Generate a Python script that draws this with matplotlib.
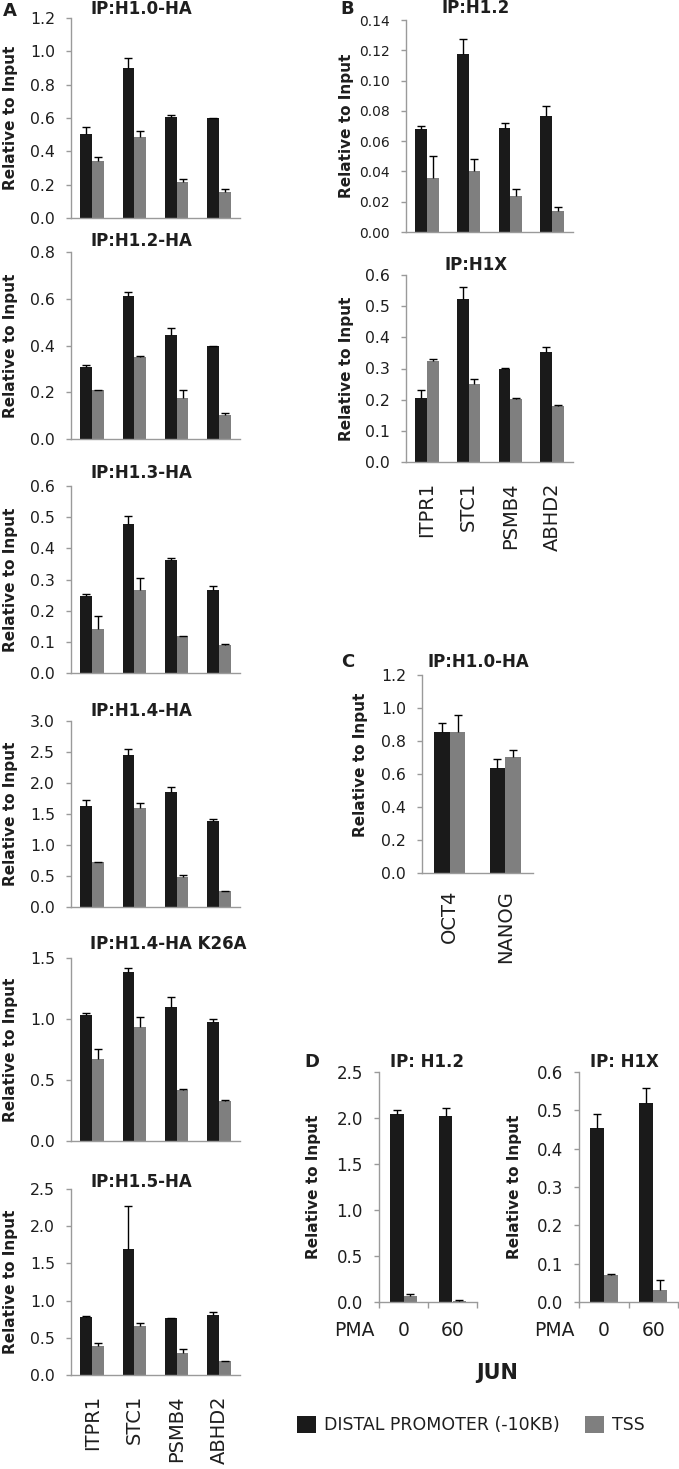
import numpy as np
import matplotlib
matplotlib.use("Agg")
import matplotlib.pyplot as plt
from matplotlib.transforms import blended_transform_factory

# ---------------- data ----------------
genes = ["ITPR1", "STC1", "PSMB4", "ABHD2"]
pluri_genes = ["OCT4", "NANOG"]
pma_times = ["0", "60"]
series_names = ["DISTAL PROMOTER (-10KB)", "TSS"]

# Panel A
a_h10_distal = [0.506, 0.900, 0.608, 0.600]
a_h10_distal_err = [0.038, 0.058, 0.012, 0.003]
a_h10_tss = [0.340, 0.488, 0.218, 0.156]
a_h10_tss_err = [0.024, 0.036, 0.018, 0.018]

a_h12_distal = [0.309, 0.611, 0.446, 0.397]
a_h12_distal_err = [0.007, 0.018, 0.027, 0.002]
a_h12_tss = [0.208, 0.350, 0.174, 0.101]
a_h12_tss_err = [0.003, 0.006, 0.034, 0.010]

a_h13_distal = [0.247, 0.479, 0.361, 0.265]
a_h13_distal_err = [0.008, 0.025, 0.007, 0.015]
a_h13_tss = [0.140, 0.267, 0.118, 0.091]
a_h13_tss_err = [0.042, 0.037, 0.002, 0.001]

a_h14_distal = [1.634, 2.448, 1.859, 1.382]
a_h14_distal_err = [0.090, 0.096, 0.080, 0.037]
a_h14_tss = [0.723, 1.590, 0.482, 0.252]
a_h14_tss_err = [0.005, 0.095, 0.027, 0.010]

a_k26a_distal = [1.036, 1.387, 1.100, 0.979]
a_k26a_distal_err = [0.011, 0.027, 0.080, 0.022]
a_k26a_tss = [0.672, 0.935, 0.414, 0.329]
a_k26a_tss_err = [0.080, 0.082, 0.011, 0.008]

a_h15_distal = [0.784, 1.689, 0.766, 0.806]
a_h15_distal_err = [0.005, 0.580, 0.005, 0.040]
a_h15_tss = [0.394, 0.663, 0.300, 0.188]
a_h15_tss_err = [0.036, 0.040, 0.045, 0.005]

# Panel B (endogenous)
b_h12_distal = [0.0679, 0.1173, 0.0686, 0.0765]
b_h12_distal_err = [0.0022, 0.0101, 0.0037, 0.0066]
b_h12_tss = [0.0355, 0.0406, 0.0238, 0.0139]
b_h12_tss_err = [0.0150, 0.0075, 0.0044, 0.0024]

b_h1x_distal = [0.206, 0.523, 0.297, 0.354]
b_h1x_distal_err = [0.025, 0.040, 0.004, 0.015]
b_h1x_tss = [0.324, 0.249, 0.203, 0.180]
b_h1x_tss_err = [0.008, 0.018, 0.001, 0.004]

# Panel C
c_h10_distal = [0.853, 0.636]
c_h10_distal_err = [0.058, 0.052]
c_h10_tss = [0.853, 0.706]
c_h10_tss_err = [0.105, 0.038]

# Panel D (JUN, PMA time)
d_h12_distal = [2.047, 2.022]
d_h12_distal_err = [0.043, 0.087]
d_h12_tss = [0.065, 0.015]
d_h12_tss_err = [0.025, 0.007]

d_h1x_distal = [0.454, 0.520]
d_h1x_distal_err = [0.037, 0.037]
d_h1x_tss = [0.070, 0.031]
d_h1x_tss_err = [0.004, 0.027]

# ---------------- style ----------------
W, H = 679, 1469
BLACK = "#1a1a1a"
GRAY = "#7f7f7f"
AXC = "#9a9a9a"
TXT = "#1e1e1e"
BAR_W = 0.28

fig = plt.figure(figsize=(W / 100, H / 100), dpi=100)


def fx(px):
    return px / W


def fy(py):
    return 1 - py / H


def make_axes(l, t, r, b):
    return fig.add_axes([fx(l), fy(b), (r - l) / W, (b - t) / H])


def draw_panel(ax, cats, dist, dist_err, tss, tss_err, ymax, step, fmt,
               ytick_size=11.3):
    x = np.arange(len(cats))
    b1 = ax.bar(x - BAR_W / 2, dist, BAR_W, color=BLACK, zorder=2)
    b2 = ax.bar(x + BAR_W / 2, tss, BAR_W, color=GRAY, zorder=2)
    for xs, v, e in ((x - BAR_W / 2, dist, dist_err), (x + BAR_W / 2, tss, tss_err)):
        _, caps, _ = ax.errorbar(xs, v, yerr=[np.zeros(len(v)), e], fmt="none",
                                 ecolor="black", elinewidth=1.0, capsize=3.2,
                                 capthick=1.0, zorder=3)
        caps[0].set_visible(False)
    ax.set_xlim(-0.5, len(cats) - 0.5)
    ax.set_ylim(0, ymax)
    ticks = np.arange(0, ymax + step / 2, step)
    ax.set_yticks(ticks)
    ax.set_yticklabels([fmt.format(t) for t in ticks])
    for s in ("top", "right"):
        ax.spines[s].set_visible(False)
    for s in ("left", "bottom"):
        ax.spines[s].set_color(AXC)
        ax.spines[s].set_linewidth(1.0)
    ax.tick_params(axis="y", direction="out", length=3.6, width=1.0, color=AXC,
                   pad=8, labelsize=ytick_size, labelcolor=TXT)
    ax.set_facecolor("none")
    return b1, b2


def cat_labels(ax, cats, pad=14.5, size=14):
    ax.set_xticks(np.arange(len(cats)))
    ax.set_xticklabels(cats, rotation=90, fontsize=size, color=TXT)
    ax.tick_params(axis="x", length=0, pad=pad)


def no_xlabels(ax):
    ax.set_xticks(np.arange(len(ax.get_xticks())))
    ax.set_xticks([])


def ylabel(ax, xc_px, l, r, yfrac=0.5, size=11):
    ax.set_ylabel("Relative to Input", fontsize=size, fontweight="bold",
                  color=TXT, va="center")
    ax.yaxis.set_label_coords((xc_px - l) / (r - l), yfrac)


def title(x, y, s, ha="center", size=12):
    fig.text(fx(x), fy(y), s, ha=ha, va="center", fontsize=size,
             fontweight="bold", color=TXT)


# ---------------- Panel A ----------------
AL, AR = 71, 240
a_specs = [
    ((18, 218), a_h10_distal, a_h10_distal_err, a_h10_tss, a_h10_tss_err, 1.2, 0.2, "{:.1f}", "IP:H1.0-HA", 9),
    ((252, 439), a_h12_distal, a_h12_distal_err, a_h12_tss, a_h12_tss_err, 0.8, 0.2, "{:.1f}", "IP:H1.2-HA", 241.5),
    ((486, 673), a_h13_distal, a_h13_distal_err, a_h13_tss, a_h13_tss_err, 0.6, 0.1, "{:.1f}", "IP:H1.3-HA", 473),
    ((721, 907), a_h14_distal, a_h14_distal_err, a_h14_tss, a_h14_tss_err, 3.0, 0.5, "{:.1f}", "IP:H1.4-HA", 711),
    ((958, 1141), a_k26a_distal, a_k26a_distal_err, a_k26a_tss, a_k26a_tss_err, 1.5, 0.5, "{:.1f}", "IP:H1.4-HA K26A", 944),
    ((1189, 1375), a_h15_distal, a_h15_distal_err, a_h15_tss, a_h15_tss_err, 2.5, 0.5, "{:.1f}", "IP:H1.5-HA", 1182),
]
legend_handles = None
for i, (tb, d, de, t, te, ymax, step, fmt, ttl, ty) in enumerate(a_specs):
    ax = make_axes(AL, tb[0], AR, tb[1])
    hs = draw_panel(ax, genes, d, de, t, te, ymax, step, fmt)
    if legend_handles is None:
        legend_handles = hs
    if i == len(a_specs) - 1:
        cat_labels(ax, genes)
    else:
        ax.set_xticks([])
    ylabel(ax, 10.5, AL, AR)
    title(90, ty, ttl, ha="left")

fig.text(fx(10), fy(11), "A", ha="center", va="center", fontsize=13,
         fontweight="bold", color=TXT)

# ---------------- Panel B ----------------
BL, BR = 406, 573
ax = make_axes(BL, 20, BR, 232)
draw_panel(ax, genes, b_h12_distal, b_h12_distal_err, b_h12_tss, b_h12_tss_err,
           0.14, 0.02, "{:.2f}", ytick_size=10)
ax.set_xticks([])
ylabel(ax, 346, BL, BR)
title(476, 8, "IP:H1.2")

ax = make_axes(BL, 275, BR, 462)
draw_panel(ax, genes, b_h1x_distal, b_h1x_distal_err, b_h1x_tss, b_h1x_tss_err,
           0.6, 0.1, "{:.1f}")
cat_labels(ax, genes)
ylabel(ax, 346, BL, BR)
title(476, 265, "IP:H1X")
fig.text(fx(347), fy(9), "B", ha="center", va="center", fontsize=13,
         fontweight="bold", color=TXT)

# ---------------- Panel C ----------------
CL, CR = 422, 533
ax = make_axes(CL, 675, CR, 873)
draw_panel(ax, pluri_genes, c_h10_distal, c_h10_distal_err, c_h10_tss,
           c_h10_tss_err, 1.2, 0.2, "{:.1f}")
cat_labels(ax, pluri_genes, pad=12)
ylabel(ax, 361, CL, CR, yfrac=(873 - 765) / (873 - 675))
title(478, 662, "IP:H1.0-HA")
fig.text(fx(348), fy(662), "C", ha="center", va="center", fontsize=13,
         fontweight="bold", color=TXT)

# ---------------- Panel D ----------------
d_specs = [
    ((379, 477), d_h12_distal, d_h12_distal_err, d_h12_tss, d_h12_tss_err, 2.5, 0.5, "IP: H1.2", 427, 313),
    ((579, 678), d_h1x_distal, d_h1x_distal_err, d_h1x_tss, d_h1x_tss_err, 0.6, 0.1, "IP: H1X", 624.5, 514),
]
for (lr, d, de, t, te, ymax, step, ttl, tx, ylx) in d_specs:
    ax = make_axes(lr[0], 1072, lr[1], 1302)
    draw_panel(ax, pma_times, d, de, t, te, ymax, step, "{:.1f}", ytick_size=12)
    n = len(pma_times)
    ax.set_xticks(np.arange(-0.5, n, 1.0))
    ax.set_xticklabels([])
    ax.tick_params(axis="x", which="major", direction="out", length=4.3,
                   width=1.0, color=AXC)
    ax.set_xticks(np.arange(n), minor=True)
    ax.set_xticklabels(pma_times, minor=True, fontsize=13.5, color=TXT)
    ax.tick_params(axis="x", which="minor", length=0, pad=14)
    trans = blended_transform_factory(ax.transData, ax.transAxes)
    ax.text(-1.0, -0.122, "PMA", transform=trans, ha="center", va="center",
            fontsize=13.5, color=TXT, clip_on=False)
    ylabel(ax, ylx, lr[0], lr[1])
    title(tx, 1062, ttl)

fig.text(fx(312), fy(1062), "D", ha="center", va="center", fontsize=13,
         fontweight="bold", color=TXT)
fig.text(fx(497), fy(1373), "JUN", ha="center", va="center", fontsize=15,
         fontweight="bold", color=TXT)

fig.legend(legend_handles, series_names, loc="center",
           bbox_to_anchor=(fx(471), fy(1425)), ncol=2, frameon=False,
           fontsize=12.5, handlelength=1.1, handleheight=1.1,
           handletextpad=0.46, columnspacing=1.44, labelcolor=TXT)

fig.savefig("out.png", dpi=100, facecolor="white")
